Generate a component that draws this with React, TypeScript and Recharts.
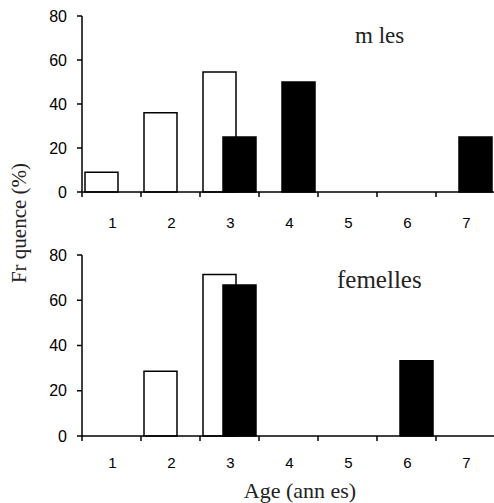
import React from "react"
import { BarChart, Bar, XAxis, YAxis } from "recharts"

// age classes (years)
const ages = ["1", "2", "3", "4", "5", "6", "7"]

// males (%): open and filled bars
const malesOpen = [9, 36, 54.5, 0, 0, 0, 0]
const malesFilled = [0, 0, 25, 50, 0, 0, 25]

// females (%)
const femalesOpen = [0, 28.6, 71.4, 0, 0, 0, 0]
const femalesFilled = [0, 0, 66.7, 0, 0, 33.3, 0]

const yTicks = [0, 20, 40, 60, 80]

const sans = "'Liberation Sans', Arial, sans-serif"
const serif = "'Liberation Serif', 'Times New Roman', serif"

const CHART_W = 495
const Y_AXIS_W = 82
const HALF_BAND = (CHART_W - Y_AXIS_W) / ages.length / 2

const toRows = (open: number[], filled: number[]) =>
  ages.map((age, i) => ({ age, open: open[i], filled: filled[i] }))

// tick mark sits on the category boundary, label in the middle
function AgeTick(props: any) {
  const { x, y, payload, labelDy } = props
  const off = payload && payload.offset != null ? payload.offset : HALF_BAND
  return (
    <g>
      <line x1={x - off} x2={x - off} y1={y} y2={y + 5} stroke="#000" strokeWidth={1.5} />
      <text x={x + 1} y={y + labelDy} dy="0.35em" textAnchor="middle" fontSize={15} fontFamily={sans} fill="#000">
        {payload.value}
      </text>
    </g>
  )
}

function Panel({ data, top, height, xAxisHeight, labelDy }: any) {
  return (
    <div style={{ position: "absolute", left: 0, top }}>
      <BarChart
        width={CHART_W}
        height={height}
        data={data}
        margin={{ top: 15, right: 0, left: 0, bottom: 0 }}
        barSize={33}
        barGap={-13}
      >
        <XAxis
          dataKey="age"
          height={xAxisHeight}
          interval={0}
          tickSize={0}
          tickMargin={0}
          tickLine={false}
          axisLine={{ stroke: "#000", strokeWidth: 1.5 }}
          tick={<AgeTick labelDy={labelDy} />}
        />
        <YAxis
          width={Y_AXIS_W}
          type="number"
          domain={[0, 80]}
          ticks={yTicks}
          interval={0}
          tickSize={5}
          tickMargin={10}
          axisLine={{ stroke: "#000", strokeWidth: 1.5 }}
          tickLine={{ stroke: "#000", strokeWidth: 1.5 }}
          tick={{ fill: "#000", fontSize: 16, fontFamily: sans }}
        />
        <Bar dataKey="open" fill="#fff" stroke="#000" strokeWidth={1.5} isAnimationActive={false} />
        <Bar dataKey="filled" fill="#000" stroke="#000" strokeWidth={1.5} isAnimationActive={false} />
      </BarChart>
    </div>
  )
}

export default function App() {
  return (
    <div style={{ position: "absolute", left: 0, top: 0, width: 494, height: 503, overflow: "hidden", background: "#fff" }}>
      <Panel data={toRows(malesOpen, malesFilled)} top={1} height={239} xAxisHeight={48} labelDy={31} />
      <Panel data={toRows(femalesOpen, femalesFilled)} top={240} height={236} xAxisHeight={40} labelDy={27} />
      <svg width={494} height={503} style={{ position: "absolute", left: 0, top: 0, pointerEvents: "none" }}>
        <text x={355} y={43} fontSize={23} fontFamily={serif} fill="#222">m les</text>
        <text x={337} y={288} fontSize={25} fontFamily={serif} fill="#222">femelles</text>
        <text x={300} y={498} textAnchor="middle" fontSize={22} fontFamily={serif} fill="#222">Age (ann es)</text>
        <text
          x={0}
          y={0}
          transform="translate(26 223) rotate(-90)"
          textAnchor="middle"
          fontSize={21}
          fontFamily={serif}
          fill="#222"
        >
          Fr quence (%)
        </text>
      </svg>
    </div>
  )
}
